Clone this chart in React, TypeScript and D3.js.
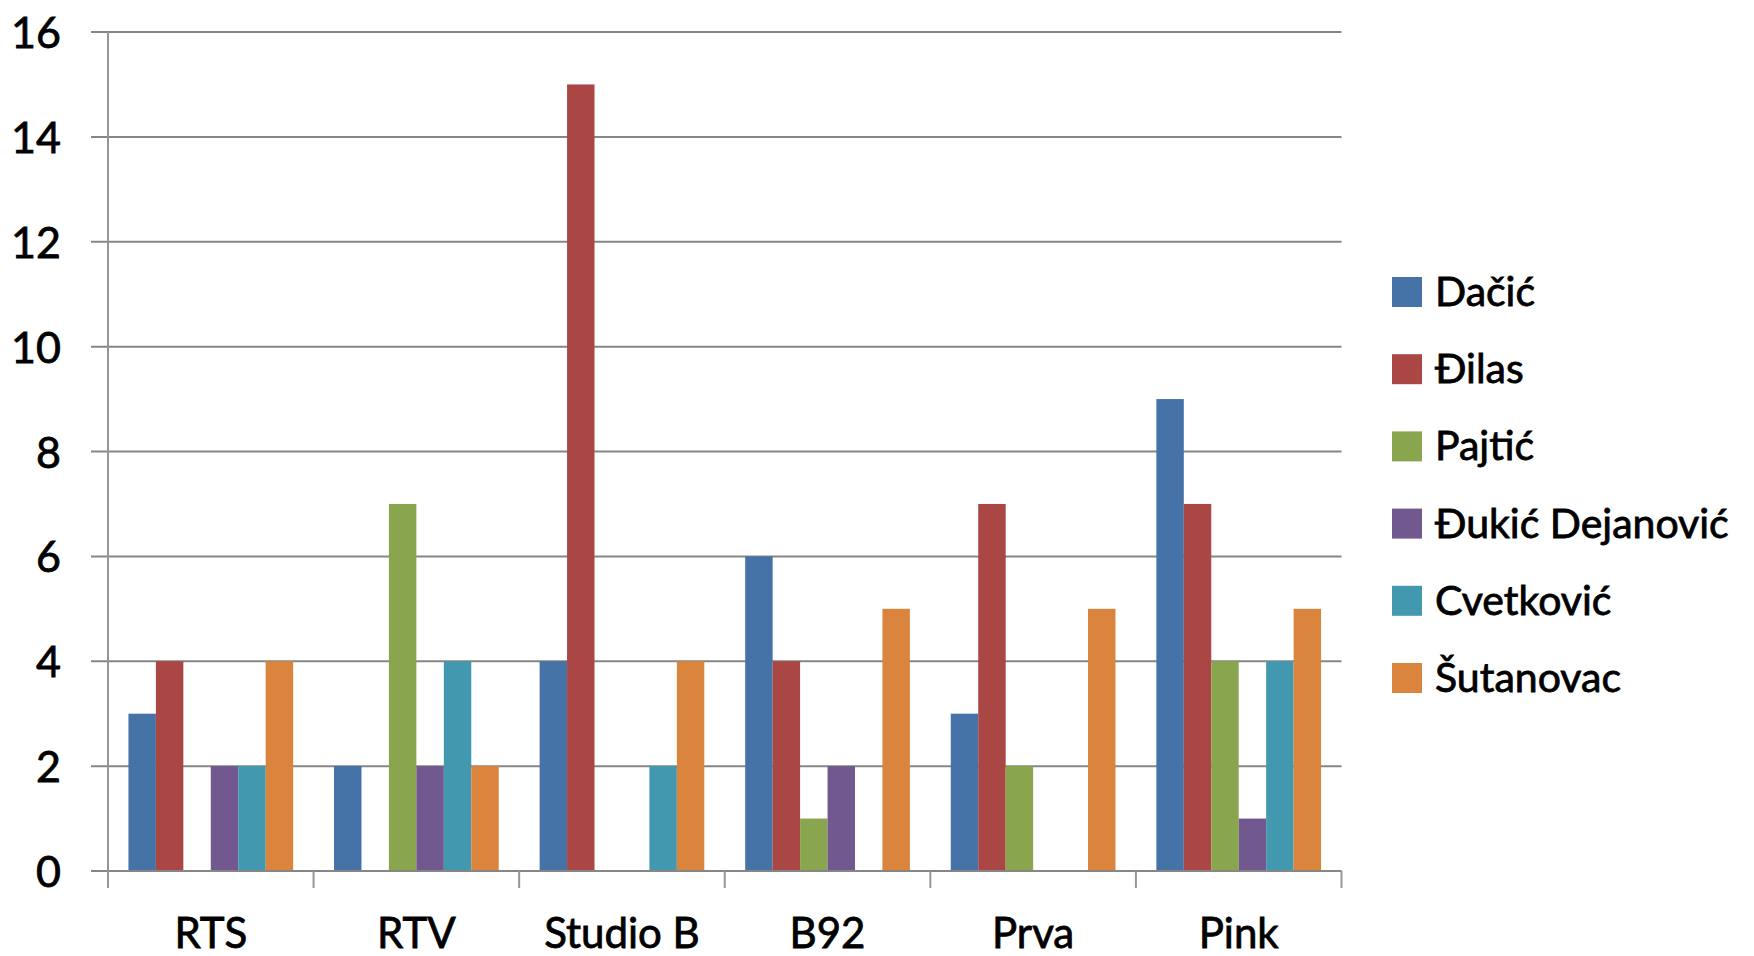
import { useEffect, useRef } from "react";
import * as d3 from "d3";

const categories = ["RTS", "RTV", "Studio B", "B92", "Prva", "Pink"];
const seriesNames = ["Dačić", "Đilas", "Pajtić", "Đukić Dejanović", "Cvetković", "Šutanovac"];
const seriesColors = ["#4572A7", "#AA4643", "#89A54E", "#71588F", "#4198AF", "#DB843D"];

// values per series, in category order
const dacic = [3, 2, 4, 6, 3, 9];
const dilas = [4, 0, 15, 4, 7, 7];
const pajtic = [0, 7, 0, 1, 2, 4];
const dukic = [2, 2, 0, 2, 0, 1];
const cvetkovic = [2, 4, 2, 0, 0, 4];
const sutanovac = [4, 2, 4, 5, 5, 5];

const yTicks = [0, 2, 4, 6, 8, 10, 12, 14, 16];

const W = 1754,
  H = 956;
const FONT = "Lato, 'Open Sans', sans-serif";

export default function App() {
  const ref = useRef<SVGSVGElement>(null);

  useEffect(() => {
    const svg = d3.select(ref.current);
    svg.selectAll("*").remove();

    const values = [dacic, dilas, pajtic, dukic, cvetkovic, sutanovac];
    const margin = { top: 32, left: 108, right: 1341.5, bottom: 871 };

    const x0 = d3.scaleBand().domain(categories).range([margin.left, margin.right]);
    const x1 = d3
      .scaleBand()
      .domain(seriesNames)
      .range([0, x0.bandwidth()])
      .paddingOuter(0.745);
    const y = d3.scaleLinear().domain([0, 16]).range([margin.bottom, margin.top]);

    // gridlines (extend left as ticks)
    svg
      .append("g")
      .selectAll("line")
      .data(yTicks)
      .join("line")
      .attr("x1", margin.left - 17)
      .attr("x2", margin.right)
      .attr("y1", (d) => y(d))
      .attr("y2", (d) => y(d))
      .attr("stroke", "#868686")
      .attr("stroke-width", 2);

    // y labels
    svg
      .append("g")
      .selectAll("text")
      .data(yTicks)
      .join("text")
      .attr("x", 61)
      .attr("y", (d) => y(d) + 16)
      .attr("text-anchor", "end")
      .attr("font-family", FONT)
      .attr("font-size", 43)
      .attr("fill", "#000")
      .attr("stroke", "#000")
      .attr("stroke-width", 0.8)
      .text((d) => d);

    // bars
    const rows = categories.map((c, ci) => ({
      c,
      bars: seriesNames.map((s, si) => ({ s, si, v: values[si][ci] })),
    }));

    svg
      .append("g")
      .selectAll("g")
      .data(rows)
      .join("g")
      .attr("transform", (d) => `translate(${x0(d.c)},0)`)
      .selectAll("rect")
      .data((d) => d.bars.filter((b) => b.v > 0))
      .join("rect")
      .attr("x", (d) => x1(d.s)!)
      .attr("width", x1.bandwidth())
      .attr("y", (d) => y(d.v))
      .attr("height", (d) => y(0) - y(d.v))
      .attr("fill", (d) => seriesColors[d.si]);

    // zero line on top of bars
    svg
      .append("line")
      .attr("x1", margin.left - 17)
      .attr("x2", margin.right)
      .attr("y1", y(0))
      .attr("y2", y(0))
      .attr("stroke", "#868686")
      .attr("stroke-width", 2);

    // y axis line
    svg
      .append("line")
      .attr("x1", margin.left)
      .attr("x2", margin.left)
      .attr("y1", margin.top)
      .attr("y2", y(0) + 17)
      .attr("stroke", "#969696")
      .attr("stroke-width", 2);

    // category ticks
    const tickX = categories.map((c) => x0(c)!).concat([margin.right]);
    svg
      .append("g")
      .selectAll("line")
      .data(tickX.slice(1))
      .join("line")
      .attr("x1", (d) => d)
      .attr("x2", (d) => d)
      .attr("y1", y(0))
      .attr("y2", y(0) + 17)
      .attr("stroke", "#969696")
      .attr("stroke-width", 2);

    // category labels
    svg
      .append("g")
      .selectAll("text")
      .data(categories)
      .join("text")
      .attr("x", (d) => x0(d)! + x0.bandwidth() / 2)
      .attr("y", 948)
      .attr("text-anchor", "middle")
      .attr("font-family", FONT)
      .attr("font-size", 42)
      .attr("fill", "#000")
      .attr("stroke", "#000")
      .attr("stroke-width", 0.8)
      .text((d) => d);

    // legend
    const lg = svg
      .append("g")
      .selectAll("g")
      .data(seriesNames)
      .join("g")
      .attr("transform", (_, i) => `translate(1392,${277 + i * 77.2})`);
    lg.append("rect")
      .attr("width", 30)
      .attr("height", 30)
      .attr("fill", (_, i) => seriesColors[i]);
    lg.append("text")
      .attr("x", 43)
      .attr("y", 29)
      .attr("font-family", FONT)
      .attr("font-size", 41)
      .attr("fill", "#000")
      .attr("stroke", "#000")
      .attr("stroke-width", 0.8)
      .text((d) => d);
  }, []);

  return (
    <svg
      ref={ref}
      width={W}
      height={H}
      style={{ position: "absolute", left: 0, top: 0, background: "#fff" }}
    />
  );
}
